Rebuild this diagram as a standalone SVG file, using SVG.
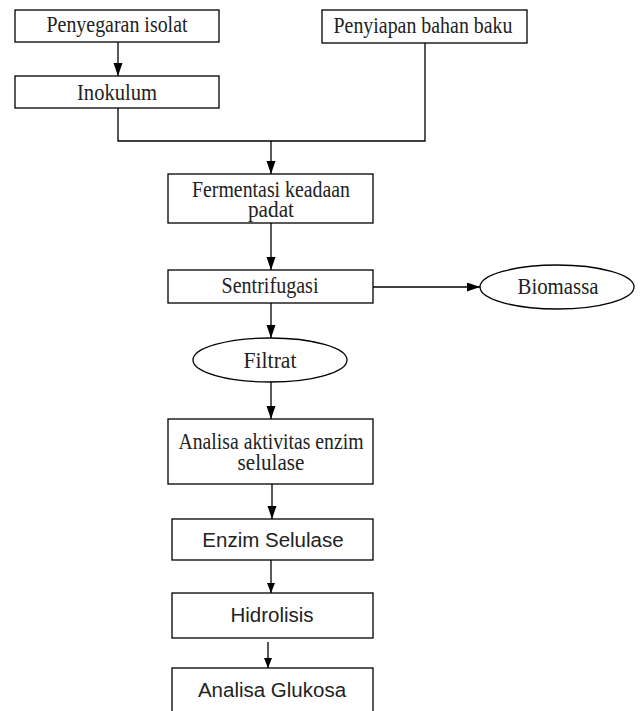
<svg xmlns="http://www.w3.org/2000/svg" width="642" height="711" viewBox="0 0 642 711">
<defs>
<marker id="ah" markerUnits="userSpaceOnUse" markerWidth="14" markerHeight="10" refX="13" refY="4.5" orient="auto">
<path d="M0,0 L13,4.5 L0,9 z" fill="#000"/>
</marker>
<marker id="ahs" markerUnits="userSpaceOnUse" markerWidth="11" markerHeight="9" refX="10" refY="4" orient="auto">
<path d="M0,0 L10,4 L0,8 z" fill="#000"/>
</marker>
<style>
.box{fill:#fff;stroke:#000;stroke-width:1.3}
.ln{fill:none;stroke:#000;stroke-width:1.3}
.t{font-family:"Liberation Serif","Times New Roman",serif;font-size:22.5px;fill:#222;text-anchor:middle}
.s{font-family:"Liberation Sans",Arial,sans-serif;font-size:20.5px;fill:#222;text-anchor:middle}
</style>
</defs>
<g id="connectors">
<line class="ln" x1="118" y1="42" x2="118" y2="76" marker-end="url(#ah)"/>
<polyline class="ln" points="118,108 118,141 425,141 425,43"/>
<line class="ln" x1="271" y1="141" x2="271" y2="174" marker-end="url(#ah)"/>
<line class="ln" x1="271" y1="223" x2="271" y2="270" marker-end="url(#ah)"/>
<line class="ln" x1="373" y1="287" x2="480" y2="287" marker-end="url(#ah)"/>
<line class="ln" x1="271" y1="303" x2="271" y2="338" marker-end="url(#ah)"/>
<line class="ln" x1="271" y1="382" x2="271" y2="419" marker-end="url(#ah)"/>
<line class="ln" x1="272" y1="484" x2="272" y2="519" marker-end="url(#ah)"/>
<line class="ln" x1="271" y1="560" x2="271" y2="593" marker-end="url(#ahs)"/>
<line class="ln" x1="268" y1="642" x2="268" y2="668" marker-end="url(#ahs)"/>
</g>
<g id="penyegaran">
<rect class="box" x="15" y="10" width="204" height="32"/>
<text class="t" x="117" y="32" textLength="141" lengthAdjust="spacingAndGlyphs">Penyegaran isolat</text>
</g>
<g id="inokulum">
<rect class="box" x="15" y="76" width="204" height="32"/>
<text class="t" x="117" y="100" textLength="80" lengthAdjust="spacingAndGlyphs">Inokulum</text>
</g>
<g id="penyiapan">
<rect class="box" x="322" y="10" width="205" height="33"/>
<text class="t" x="423" y="33" textLength="179" lengthAdjust="spacingAndGlyphs">Penyiapan bahan baku</text>
</g>
<g id="fermentasi">
<rect class="box" x="168" y="174" width="205" height="49"/>
<text class="t" x="271" y="197" textLength="158" lengthAdjust="spacingAndGlyphs">Fermentasi keadaan</text>
<text class="t" x="271" y="217" textLength="46" lengthAdjust="spacingAndGlyphs">padat</text>
</g>
<g id="sentrifugasi">
<rect class="box" x="168" y="270" width="205" height="33"/>
<text class="t" x="270" y="293" textLength="97" lengthAdjust="spacingAndGlyphs">Sentrifugasi</text>
</g>
<g id="biomassa">
<ellipse class="box" cx="557" cy="287" rx="77" ry="22"/>
<text class="t" x="558" y="294" textLength="81" lengthAdjust="spacingAndGlyphs">Biomassa</text>
</g>
<g id="filtrat">
<ellipse class="box" cx="270" cy="360" rx="77" ry="22"/>
<text class="t" x="270" y="368" textLength="53" lengthAdjust="spacingAndGlyphs">Filtrat</text>
</g>
<g id="analisa-aktivitas">
<rect class="box" x="168" y="419" width="205" height="65"/>
<text class="t" x="271" y="449" textLength="185" lengthAdjust="spacingAndGlyphs">Analisa aktivitas enzim</text>
<text class="t" x="271" y="470" textLength="67" lengthAdjust="spacingAndGlyphs">selulase</text>
</g>
<g id="enzim-selulase">
<rect class="box" x="172" y="519" width="201" height="41"/>
<text class="s" x="273" y="547">Enzim Selulase</text>
</g>
<g id="hidrolisis">
<rect class="box" x="172" y="593" width="201" height="45"/>
<text class="s" x="272" y="622">Hidrolisis</text>
</g>
<g id="analisa-glukosa">
<rect class="box" x="172" y="668" width="201" height="60"/>
<text class="s" x="272" y="697">Analisa Glukosa</text>
</g>
</svg>
